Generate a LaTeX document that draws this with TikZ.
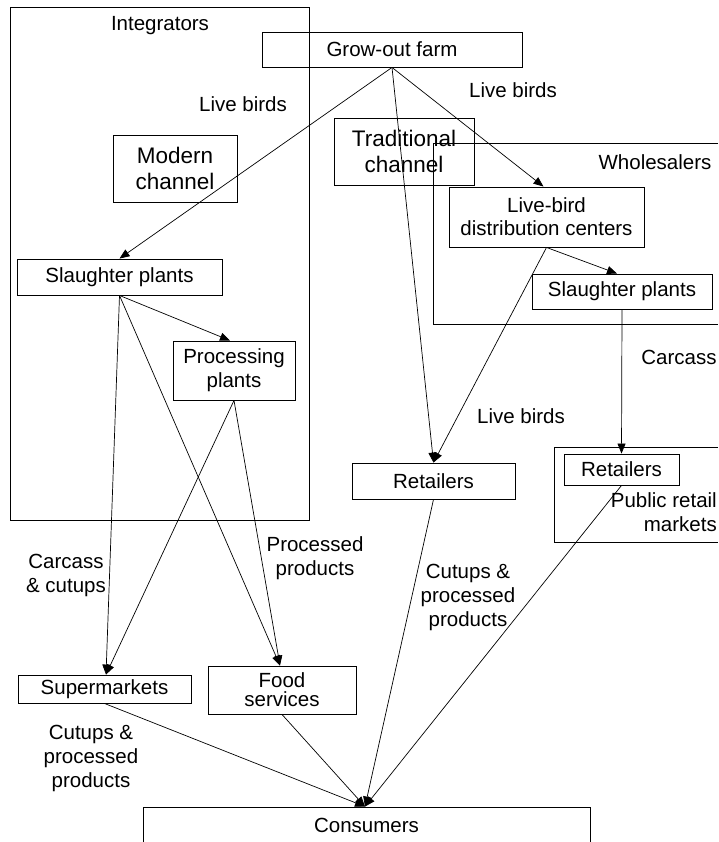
\documentclass[tikz,border=0pt]{standalone}
\usepackage{fontspec}
\setmainfont{Liberation Sans}
\usetikzlibrary{arrows.meta,calc}

\begin{document}
\begin{tikzpicture}[x=1pt,y=-1pt,
  every node/.style={font=\fontsize{20.5}{24}\selectfont, inner sep=0pt},
  box/.style={draw, line width=0.9pt, align=center},
  bigbox/.style={box, font=\fontsize{22.5}{26.5}\selectfont},
  frame/.style={draw, line width=0.9pt},
  lbl/.style={align=center},
  flow/.style={line width=0.7pt, -{Triangle[length=10pt,width=8pt]}},
  plain/.style={line width=0.7pt}]
\useasboundingbox (0,0) rectangle (718,842);

% enclosing groups
\draw[frame] (10,7) rectangle (309,520);
\draw[frame] (718,143) -- (433,143) -- (433,324) -- (718,324);
\draw[frame] (718,447) -- (554,447) -- (554,542) -- (718,542);

% group titles
\node[lbl] (tint) at (160,26) {Integrators};
\node[lbl] (twhole) at (655,162) {Wholesalers};
\node[anchor=east, align=right] (tpub) at (717,512) {Public retail\\markets};

% boxes
\node[box, minimum width=260, minimum height=35] (farm) at (392,49.5) {Grow-out farm};
\node[bigbox, minimum width=124, minimum height=67] (modern) at (175,168.5) {Modern\\channel};
\node[bigbox, minimum width=140, minimum height=67] (trad) at (404,151.5) {Traditional\\channel};
\node[box, minimum width=195, minimum height=60, font=\fontsize{20.5}{23}\selectfont] (lbdc) at (546.5,217) {Live-bird\\distribution centers};
\node[box, minimum width=180, minimum height=35] (slR) at (622,291.5) {Slaughter plants};
\node[box, minimum width=205, minimum height=36] (slL) at (119.5,277) {Slaughter plants};
\node[box, minimum width=122, minimum height=59] (proc) at (234,370.5) {Processing\\plants};
\node[box, minimum width=163, minimum height=36] (retM) at (433.5,481) {Retailers};
\node[box, minimum width=115, minimum height=31] (retR) at (621.5,469.5) {Retailers};
\node[box, minimum width=173, minimum height=28] (super) at (104.5,689) {Supermarkets};
\node[box, minimum width=148, minimum height=48, font=\fontsize{20.5}{19}\selectfont] (food) at (282,690) {Food\\services};
\node[box, minimum width=447, minimum height=36] (cons) at (366.5,825) {Consumers};

% flow labels
\node[lbl] (lb1) at (243,104) {Live birds};
\node[lbl] (lb2) at (513,90) {Live birds};
\node[lbl] (lb3) at (521,416) {Live birds};
\node[lbl] (lcar) at (679,357) {Carcass};
\node[lbl] (lcc) at (66,575) {Carcass\\\& cutups};
\node[lbl] (lpp) at (315,558) {Processed\\products};
\node[lbl] (lcpm) at (468,597) {Cutups \&\\processed\\products};
\node[lbl] (lcpl) at (91,758) {Cutups \&\\processed\\products};

% connectors
\draw[flow] (farm.south) -- (slL.north);
\draw[flow] (farm.south) -- ($(lbdc.north)+(-3,0)$);
\draw[flow] (farm.south) -- (retM.north);
\draw[flow] (lbdc.south) -- ($(slR.north)+(-5,0)$);
\draw[flow] (lbdc.south) -- (retM.north);
\draw[flow] (slR.south) -- (retR.north);
\draw[flow] (slL.south) -- ($(proc.north)+(-4,0)$);
\draw[flow] (slL.south) -- ($(super.north)+(1.5,0)$);
\draw[flow] (slL.south) -- ($(food.north)+(-2,0)$);
\draw[flow] (proc.south) -- ($(super.north)+(1.5,0)$);
\draw[flow] (proc.south) -- ($(food.north)+(-2,0)$);
\draw[flow] (super.south) -- ($(cons.north)+(-1.5,0)$);
\draw[flow] (food.south) -- ($(cons.north)+(-1.5,0)$);
\draw[flow] (retM.south) -- ($(cons.north)+(-1.5,0)$);
\draw[flow] (retR.south) -- ($(cons.north)+(-1.5,0)$);
\end{tikzpicture}
\end{document}
